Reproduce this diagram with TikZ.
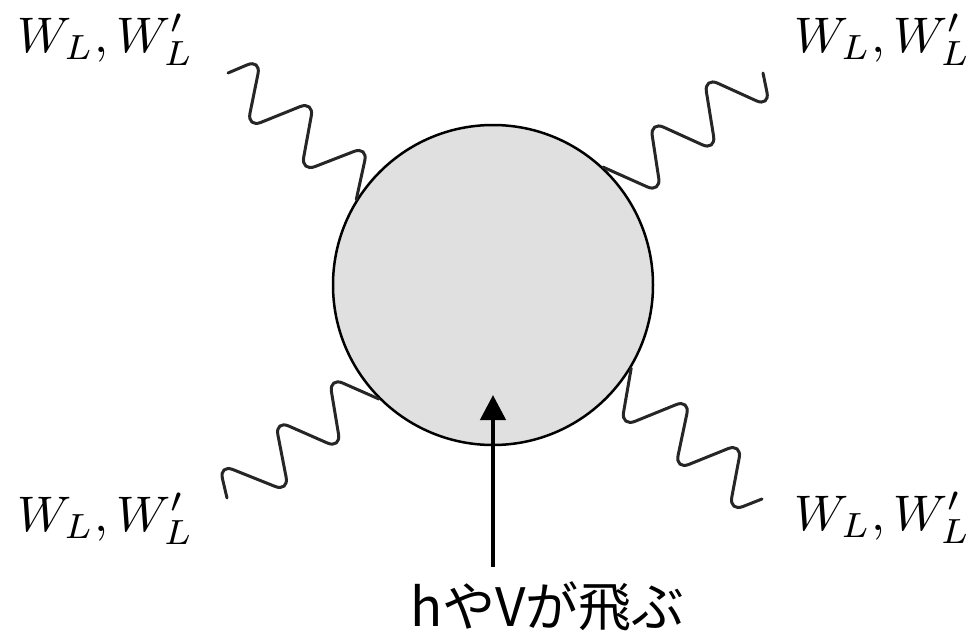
\documentclass[tikz,border=0pt]{standalone}
\usepackage{graphicx}
\usepackage{fontspec}
\newfontfamily\cjk{Noto Sans CJK JP}
\usetikzlibrary{arrows.meta}
\definecolor{blobfill}{HTML}{E0E0E0}
\definecolor{wavecol}{HTML}{262626}
\newcommand{\wlab}{\scalebox{5.0}{$W_L, W'_L$}}
\begin{document}
\begin{tikzpicture}[x=1pt,y=-1pt,
  wave/.style={draw=wavecol,line width=3pt,rounded corners=15pt,line cap=round},
  wlabel/.style={inner sep=0pt,anchor=base west},
  blobstyle/.style={circle,draw=black,fill=blobfill,line width=2.5pt,minimum size=320pt,inner sep=0pt}]
\useasboundingbox (0,0) rectangle (970,633);
\node[blobstyle] (blob) at (493,285) {};
% free ends
\coordinate (tlend) at (228,73);
\coordinate (trend) at (763,73);
\coordinate (blend) at (227,498);
\coordinate (brend) at (762,499);
% waves
\draw[wave] (blob.148) -- (368,146) -- (301,172) -- (314,101) -- (247,128) -- (261,59) -- (tlend);
\draw[wave] (blob.47) -- (661,193) -- (650,121) -- (716,151) -- (704,77) -- (770,107) -- (trend);
\draw[wave] (blob.225.5) -- (329,377) -- (341,449) -- (275,420) -- (289,492) -- (219,464) -- (blend);
\draw[wave] (blob.329.6) -- (621,427) -- (690,399) -- (675,470) -- (742,443) -- (729,512) -- (brend);
% labels
\node[wlabel] (ltl) at (17,52) {\wlab};
\node[wlabel] (ltr) at (794,52) {\wlab};
\node[wlabel] (lbl) at (17,531) {\wlab};
\node[wlabel] (lbr) at (794,530) {\wlab};
% arrow
\coordinate (afoot) at (493,567);
\coordinate (atip) at (493,395);
\draw[line width=4.5pt,-{Triangle[width=25pt,length=25pt]}] (afoot) -- (atip);
\node[inner sep=0pt,anchor=base west,font=\cjk\fontsize{53}{60}\selectfont] (cap) at (410,626) {hやVが飛ぶ};
\end{tikzpicture}
\end{document}
